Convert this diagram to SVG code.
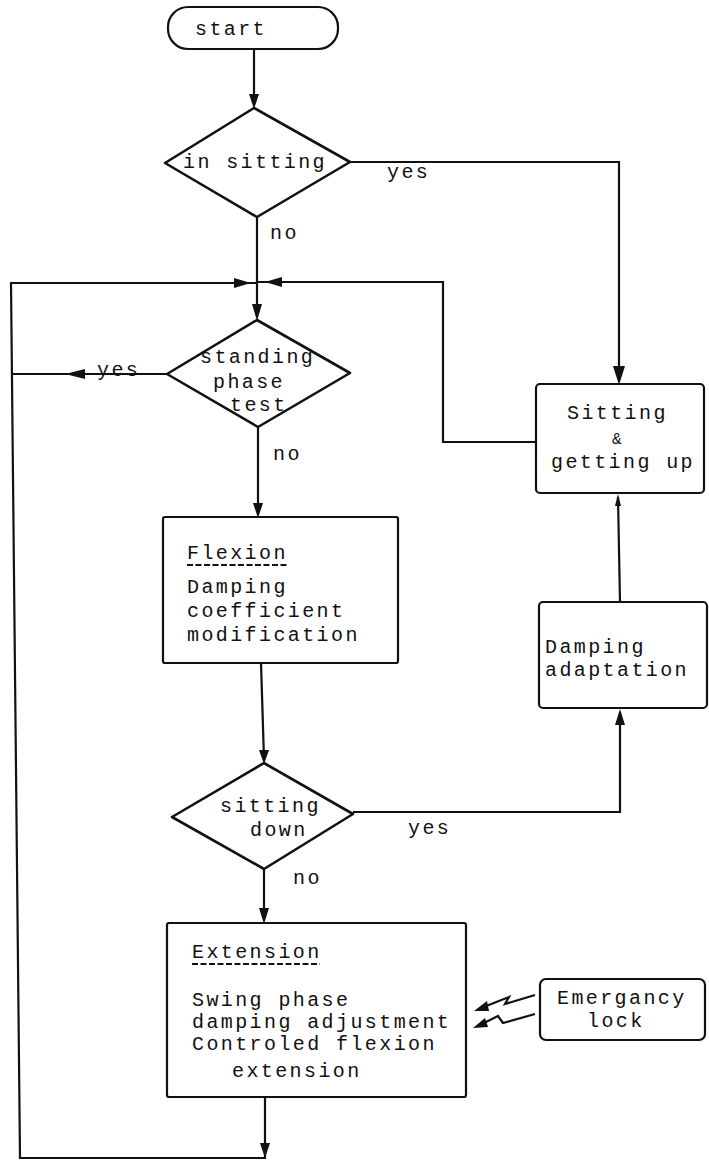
<svg xmlns="http://www.w3.org/2000/svg" width="709" height="1169" viewBox="0 0 709 1169">
<style>
  .bg{fill:#ffffff}
  .shape{fill:#ffffff;stroke:#111;stroke-width:2.2}
  .dia{fill:#ffffff;stroke:#111;stroke-width:2.6;stroke-linejoin:round}
  .ln{fill:none;stroke:#111;stroke-width:2.2}
  .ah{fill:#111;stroke:none}
  .t{font-family:"Liberation Mono","DejaVu Sans Mono",monospace;font-size:20px;letter-spacing:2.4px;fill:#111}
  .ul{stroke:#111;stroke-width:2;stroke-dasharray:6 2.5}
</style>
<rect class="bg" x="0" y="0" width="709" height="1169"/>

<g id="connectors">
  <!-- start -> in sitting -->
  <path class="ln" d="M254 49 L254 104"/>
  <polygon class="ah" points="249,94 259,94 254,109"/>
  <!-- in sitting yes -> Sitting box -->
  <path class="ln" d="M350 162 L619 162 L619 380"/>
  <polygon class="ah" points="613,366 625,366 619,385"/>
  <!-- in sitting no -> standing -->
  <path class="ln" d="M257 217 L257 316"/>
  <polygon class="ah" points="252,304 262,304 257,321"/>
  <!-- loop return from left -->
  <path class="ln" d="M265 1097 L265 1158 L20 1158 L11 283 L257 283"/>
  <polygon class="ah" points="260,1143 270,1143 265,1158"/>
  <polygon class="ah" points="234,278 234,288 251,283"/>
  <!-- Sitting box -> junction -->
  <path class="ln" d="M536 442 L443 442 L443 282 L257 282"/>
  <polygon class="ah" points="282,277 282,287 265,282"/>
  <!-- standing yes -> left -->
  <path class="ln" d="M167 374 L11 374"/>
  <polygon class="ah" points="85,369 85,379 65,374"/>
  <!-- standing no -> Flexion -->
  <path class="ln" d="M258 427 L258 513"/>
  <polygon class="ah" points="253,503 263,503 258,518"/>
  <!-- Flexion -> sitting down -->
  <path class="ln" d="M261 663 L264 759"/>
  <polygon class="ah" points="259,750 269,750 264,764"/>
  <!-- sitting down yes -> Damping adaptation -->
  <path class="ln" d="M353 812 L620 812 L620 712"/>
  <polygon class="ah" points="615,725 625,725 620,709"/>
  <!-- Damping adaptation -> Sitting box -->
  <path class="ln" d="M620 602 L618 497"/>
  <polygon class="ah" points="615,506 621,506 618,494"/>
  <!-- sitting down no -> Extension -->
  <path class="ln" d="M264 869 L264 919"/>
  <polygon class="ah" points="259,908 269,908 264,924"/>
  <!-- emergency lock signals -->
  <path class="ln" d="M535 995 L505 1004 L509 997 L481 1008" stroke-width="2"/>
  <polygon class="ah" points="474,1011 487,1001 489,1011"/>
  <path class="ln" d="M535 1014 L503 1023 L498 1016 L480 1025" stroke-width="2"/>
  <polygon class="ah" points="473,1028 485,1018 488,1027"/>
</g>

<g id="start">
  <rect class="shape" x="168" y="7" width="170" height="42" rx="20" ry="20"/>
  <text class="t" x="195" y="35">start</text>
</g>

<g id="in-sitting">
  <polygon class="dia" points="254,108 350,162 257,217 165,163"/>
  <text class="t" x="183" y="168">in sitting</text>
</g>
<text class="t" x="387" y="178">yes</text>
<text class="t" x="270" y="239">no</text>

<g id="standing-phase-test">
  <polygon class="dia" points="257,320 350,373 258,427 167,374"/>
  <text class="t" x="200" y="363">standing</text>
  <text class="t" x="213" y="388">phase</text>
  <text class="t" x="230" y="411">test</text>
</g>
<text class="t" x="97" y="376">yes</text>
<text class="t" x="273" y="460">no</text>

<g id="sitting-getting-up">
  <rect class="shape" x="536" y="384" width="168" height="109" rx="4" ry="4"/>
  <text class="t" x="567" y="419">Sitting</text>
  <text class="t" x="612" y="444" style="font-size:16px;letter-spacing:0">&amp;</text>
  <text class="t" x="551" y="468">getting up</text>
</g>

<g id="flexion">
  <rect class="shape" x="163" y="517" width="235" height="146" rx="2" ry="2"/>
  <text class="t" x="187" y="559">Flexion</text>
  <line class="ul" x1="187" y1="565" x2="287" y2="565"/>
  <text class="t" x="187" y="593">Damping</text>
  <text class="t" x="187" y="617">coefficient</text>
  <text class="t" x="187" y="641">modification</text>
</g>

<g id="damping-adaptation">
  <rect class="shape" x="539" y="602" width="168" height="106" rx="4" ry="4"/>
  <text class="t" x="545" y="653">Damping</text>
  <text class="t" x="545" y="676">adaptation</text>
</g>

<g id="sitting-down">
  <polygon class="dia" points="264,763 353,814 264,869 172,817"/>
  <text class="t" x="220" y="812">sitting</text>
  <text class="t" x="250" y="836">down</text>
</g>
<text class="t" x="408" y="834">yes</text>
<text class="t" x="293" y="884">no</text>

<g id="extension">
  <rect class="shape" x="167" y="923" width="299" height="174" rx="2" ry="2"/>
  <text class="t" x="192" y="958">Extension</text>
  <line class="ul" x1="192" y1="964" x2="320" y2="964"/>
  <text class="t" x="192" y="1006">Swing phase</text>
  <text class="t" x="192" y="1028">damping adjustment</text>
  <text class="t" x="192" y="1050">Controled flexion</text>
  <text class="t" x="232" y="1077">extension</text>
</g>

<g id="emergency-lock">
  <rect class="shape" x="540" y="979" width="165" height="61" rx="6" ry="6"/>
  <text class="t" x="557" y="1004">Emergancy</text>
  <text class="t" x="587" y="1027">lock</text>
</g>
</svg>
